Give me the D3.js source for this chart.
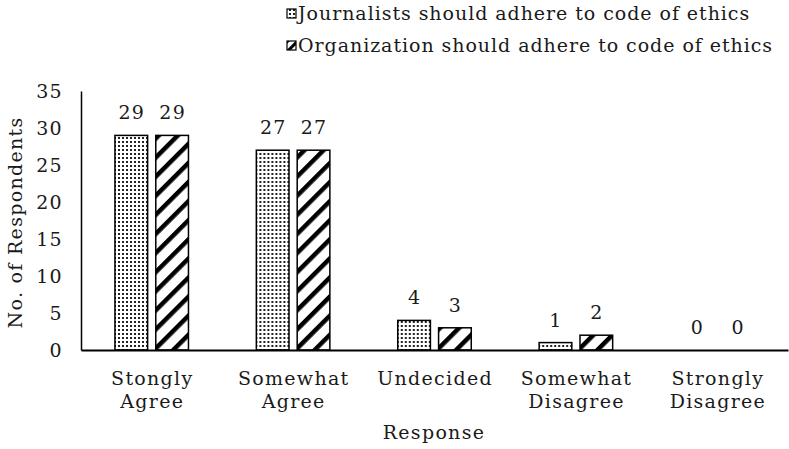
<!DOCTYPE html>
<html>
<head>
<meta charset="utf-8">
<script src="https://cdn.jsdelivr.net/npm/d3@7"></script>
<style>
  html, body { margin: 0; padding: 0; background: #fff; }
  svg text { font-family: "DejaVu Serif", "Liberation Serif", serif; fill: #1a1a1a; letter-spacing: 1.3px; }
  svg .legend text { letter-spacing: 0.95px; }
</style>
</head>
<body>
<svg id="chart" width="789" height="449"></svg>
<script>
// Survey responses on codes of ethics
const categories = [["Stongly", "Agree"], ["Somewhat", "Agree"], ["Undecided"], ["Somewhat", "Disagree"], ["Strongly", "Disagree"]];
const seriesNames = ["Journalists should adhere to code of ethics", "Organization should adhere to code of ethics"];
const journalists = [29, 27, 4, 1, 0];
const organization = [29, 27, 3, 2, 0];
const yTicks = [0, 5, 10, 15, 20, 25, 30, 35];

const svg = d3.select("#chart");
const margin = { left: 81, right: 1, top: 91, bottom: 99 };
const W = 789, H = 449;
const fs = 19;

// fill patterns: fine dots and thick diagonal stripes
const defs = svg.append("defs");
const dots = defs.append("pattern").attr("id", "dots").attr("patternUnits", "userSpaceOnUse")
  .attr("width", 4).attr("height", 4);
dots.append("rect").attr("width", 4).attr("height", 4).attr("fill", "#fff");
dots.append("rect").attr("x", 1).attr("y", 1).attr("width", 2).attr("height", 2).attr("fill", "#222");

function stripePattern(id, period, thick) {
  const p = defs.append("pattern").attr("id", id).attr("patternUnits", "userSpaceOnUse")
    .attr("width", period).attr("height", period).attr("patternTransform", "rotate(45)");
  p.append("rect").attr("width", period).attr("height", period).attr("fill", "#fff");
  p.append("rect").attr("x", 0).attr("y", 0).attr("width", thick).attr("height", period).attr("fill", "#000");
}
stripePattern("stripes", 13.5, 4.5);
stripePattern("stripesKey", 7, 3);

const fills = ["url(#dots)", "url(#stripes)"];
const keyFills = ["url(#dots)", "url(#stripesKey)"];
const series = [journalists, organization];

const x0 = d3.scaleBand().domain(d3.range(categories.length))
  .range([margin.left, W - margin.right]).paddingInner(0).paddingOuter(0);
const bw = x0.bandwidth();
const x1 = d3.scaleBand().domain([0, 1]).range([bw * 0.24, bw * 0.76]).paddingInner(0.2).paddingOuter(0);
const y = d3.scaleLinear().domain([0, 35]).range([H - margin.bottom, margin.top]);

// y axis
const yAxis = svg.append("g").attr("transform", `translate(${margin.left},0)`)
  .call(d3.axisLeft(y).tickValues(yTicks).tickSize(0).tickPadding(18));
yAxis.select(".domain").attr("stroke", "#000").attr("stroke-width", 1.5);
yAxis.selectAll("text").attr("font-size", fs).attr("font-family", "DejaVu Serif").attr("fill", "#1a1a1a");

// bars
const groups = svg.append("g").selectAll("g").data(categories).join("g")
  .attr("transform", (d, i) => `translate(${x0(i)},0)`);
series.forEach((vals, s) => {
  groups.append("rect")
    .attr("x", x1(s)).attr("width", x1.bandwidth())
    .attr("y", (d, i) => y(vals[i])).attr("height", (d, i) => y(0) - y(vals[i]))
    .attr("fill", fills[s]).attr("stroke", "#000").attr("stroke-width", 1.5)
    .attr("display", (d, i) => vals[i] > 0 ? null : "none");
  groups.append("text")
    .attr("x", x1(s) + x1.bandwidth() / 2 + 0.6).attr("y", (d, i) => y(vals[i]) - 16)
    .attr("text-anchor", "middle").attr("font-size", fs)
    .text((d, i) => vals[i]);
});

// x axis
const xAxis = svg.append("g").attr("transform", `translate(0,${y(0)})`)
  .call(d3.axisBottom(x0).tickSize(0).tickFormat(""));
xAxis.select(".domain").attr("stroke", "#000").attr("stroke-width", 2);

groups.append("text").attr("text-anchor", "middle").attr("font-size", fs)
  .attr("y", y(0) + 35)
  .selectAll("tspan").data(d => d).join("tspan")
  .attr("x", bw / 2 + 0.6).attr("dy", (d, i) => i === 0 ? 0 : 23).text(d => d);

// axis titles
svg.append("text").attr("x", 434).attr("y", 439).attr("text-anchor", "middle")
  .attr("font-size", fs).text("Response");
svg.append("text").attr("transform", `translate(22,${(y(0) + y(35)) / 2 + 2}) rotate(-90)`)
  .attr("text-anchor", "middle").attr("font-size", fs).text("No. of Respondents");

// legend
const legend = svg.append("g").attr("class", "legend");
seriesNames.forEach((name, s) => {
  const ly = 14 + s * 32;
  legend.append("rect").attr("x", 287).attr("y", ly - 5).attr("width", 9).attr("height", 9)
    .attr("fill", keyFills[s]).attr("stroke", "#000").attr("stroke-width", 1.2);
  legend.append("text").attr("x", 298).attr("y", ly + 6).attr("font-size", fs).text(name);
});
</script>
</body>
</html>
